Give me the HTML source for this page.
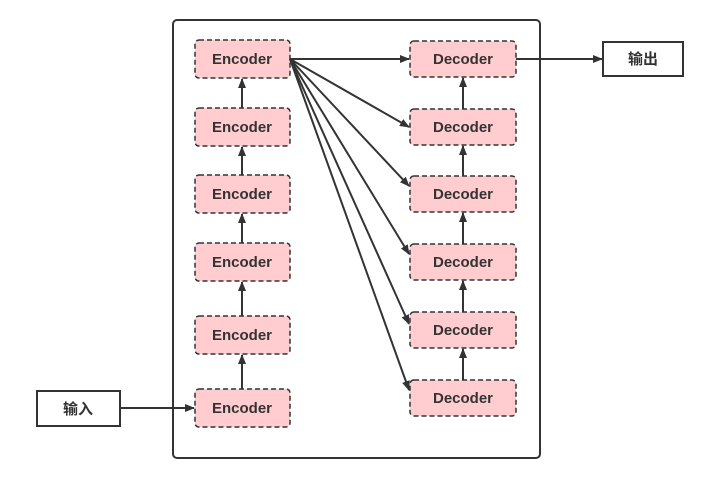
<!DOCTYPE html>
<html><head><meta charset="utf-8"><style>
html,body{margin:0;padding:0;background:#fff;}
</style></head><body>
<svg width="708" height="484" xmlns="http://www.w3.org/2000/svg" font-family="'Liberation Sans','Noto Sans CJK SC',sans-serif" font-weight="bold" font-size="15">
<defs><marker id="a" markerWidth="10" markerHeight="8" refX="9" refY="4" orient="auto" markerUnits="userSpaceOnUse"><path d="M0,0 L10,4 L0,8 Z" fill="#333"/></marker></defs>
<rect x="173" y="20" width="367" height="438" rx="4" fill="none" stroke="#333" stroke-width="2"/>
<g fill="#ffccd0" stroke="#333" stroke-width="1.5" stroke-dasharray="5,3">
<rect x="195" y="40" width="95" height="38" rx="4"/>
<rect x="195" y="108" width="95" height="38" rx="4"/>
<rect x="195" y="175" width="95" height="38" rx="4"/>
<rect x="195" y="243" width="95" height="38" rx="4"/>
<rect x="195" y="316" width="95" height="38" rx="4"/>
<rect x="195" y="389" width="95" height="38" rx="4"/>
<rect x="410" y="41" width="106" height="36" rx="4"/>
<rect x="410" y="109" width="106" height="36" rx="4"/>
<rect x="410" y="176" width="106" height="36" rx="4"/>
<rect x="410" y="244" width="106" height="36" rx="4"/>
<rect x="410" y="312" width="106" height="36" rx="4"/>
<rect x="410" y="380" width="106" height="36" rx="4"/>
</g>
<g fill="#333" text-anchor="middle">
<text x="242" y="64">Encoder</text><text x="242" y="132">Encoder</text><text x="242" y="199">Encoder</text><text x="242" y="267">Encoder</text><text x="242" y="340">Encoder</text><text x="242" y="413">Encoder</text>
<text x="463" y="64">Decoder</text><text x="463" y="132">Decoder</text><text x="463" y="199">Decoder</text><text x="463" y="267">Decoder</text><text x="463" y="335">Decoder</text><text x="463" y="403">Decoder</text>
</g>
<g stroke="#333" stroke-width="2" fill="none" marker-end="url(#a)">
<line x1="242" y1="389" x2="242" y2="355"/>
<line x1="242" y1="316" x2="242" y2="282"/>
<line x1="242" y1="243" x2="242" y2="214"/>
<line x1="242" y1="175" x2="242" y2="147"/>
<line x1="242" y1="108" x2="242" y2="79"/>
<line x1="463" y1="380" x2="463" y2="349"/>
<line x1="463" y1="312" x2="463" y2="281"/>
<line x1="463" y1="244" x2="463" y2="213"/>
<line x1="463" y1="176" x2="463" y2="146"/>
<line x1="463" y1="109" x2="463" y2="78"/>
<line x1="290" y1="59" x2="409" y2="59"/>
<line x1="290" y1="59" x2="409" y2="127"/>
<line x1="290" y1="59" x2="409" y2="186"/>
<line x1="290" y1="59" x2="409" y2="254"/>
<line x1="290" y1="59" x2="409" y2="324"/>
<line x1="290" y1="59" x2="409" y2="390"/>
<line x1="120" y1="408" x2="194" y2="408"/>
<line x1="516" y1="59" x2="602" y2="59"/>
</g>
<rect x="37" y="391" width="83" height="35" fill="#fff" stroke="#333" stroke-width="2"/>
<text x="78" y="414" text-anchor="middle" fill="#333">输入</text>
<rect x="603" y="42" width="80" height="34" fill="#fff" stroke="#333" stroke-width="2"/>
<text x="643" y="64" text-anchor="middle" fill="#333">输出</text>
</svg>
</body></html>
